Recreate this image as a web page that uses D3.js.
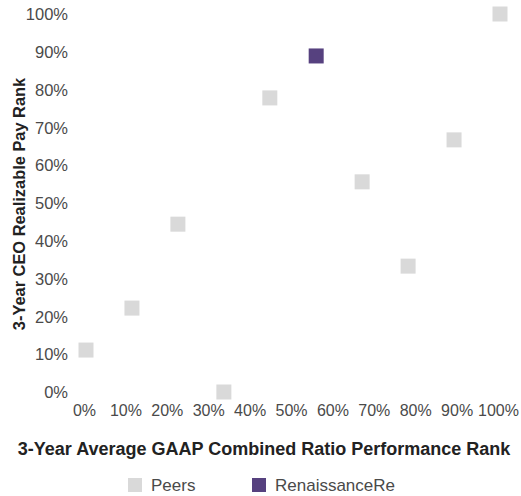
<!DOCTYPE html>
<html>
<head>
<meta charset="utf-8">
<script src="https://cdn.jsdelivr.net/npm/d3@7"></script>
<style>
  body { margin: 0; background: #fff; }
  text { font-family: "Liberation Sans", Arial, sans-serif; }
</style>
</head>
<body>
<div id="chart"></div>
<script>
// Performance rank (x) vs realizable pay rank (y), in percent
const peerNames = ["P1", "P2", "P3", "P4", "P5", "P6", "P7", "P8", "P9"];
const peerPerf = [0, 11.1, 22.2, 33.3, 44.4, 66.7, 77.8, 88.9, 100];
const peerPay = [11.1, 22.2, 44.4, 0, 77.8, 55.6, 33.3, 66.7, 100];
const companyPerf = [55.6];
const companyPay = [88.9];
const tickValues = [0, 10, 20, 30, 40, 50, 60, 70, 80, 90, 100];
const legendLabels = ["Peers", "RenaissanceRe"];

const width = 521, height = 496;
const peerColor = "#d9d9d9", companyColor = "#56417f";
const size = 15;

const svg = d3.select("#chart").append("svg")
    .attr("width", width)
    .attr("height", height);

const xScale = d3.scaleLinear().domain([0, 100]).range([86, 500]);
const yScale = d3.scaleLinear().domain([0, 100]).range([392, 14]);

// Axes (labels only, no lines)
const xAxis = d3.axisBottom(xScale).tickValues(tickValues)
    .tickFormat(d => d + "%").tickSize(0).tickPadding(0);
const yAxis = d3.axisLeft(yScale).tickValues(tickValues)
    .tickFormat(d => d + "%").tickSize(0).tickPadding(0);

const xAxisGroup = svg.append("g")
    .attr("transform", "translate(-2, 405)")
    .call(xAxis);
const yAxisGroup = svg.append("g")
    .attr("transform", "translate(68, 0)")
    .call(yAxis);

[xAxisGroup, yAxisGroup].forEach(g => {
    g.select(".domain").remove();
    g.selectAll("text")
        .attr("fill", "#4a4a4a")
        .style("font-family", "'Liberation Sans', Arial, sans-serif");
});
xAxisGroup.selectAll("text").style("font-size", "16px");
yAxisGroup.selectAll("text").style("font-size", "16.5px").attr("dy", "0.35em");

// Axis titles
svg.append("text")
    .attr("x", 264)
    .attr("y", 455)
    .attr("text-anchor", "middle")
    .attr("font-weight", "bold")
    .attr("font-size", "18px")
    .attr("fill", "#222")
    .text("3-Year Average GAAP Combined Ratio Performance Rank");

svg.append("text")
    .attr("transform", "translate(25, 204) rotate(-90)")
    .attr("text-anchor", "middle")
    .attr("font-weight", "bold")
    .attr("font-size", "16.4px")
    .attr("fill", "#222")
    .text("3-Year CEO Realizable Pay Rank");

// Points
const peers = peerNames.map((n, i) => ({ x: peerPerf[i], y: peerPay[i] }));
const company = companyPerf.map((v, i) => ({ x: v, y: companyPay[i] }));

svg.append("g").selectAll("rect")
    .data(peers)
    .join("rect")
    .attr("x", d => xScale(d.x) - size / 2)
    .attr("y", d => yScale(d.y) - size / 2)
    .attr("width", size)
    .attr("height", size)
    .attr("fill", peerColor);

svg.append("g").selectAll("rect")
    .data(company)
    .join("rect")
    .attr("x", d => xScale(d.x) - size / 2)
    .attr("y", d => yScale(d.y) - size / 2)
    .attr("width", size)
    .attr("height", size)
    .attr("fill", companyColor);

// Legend
const legendX = [128, 252];
const legendColors = [peerColor, companyColor];
const legend = svg.append("g").selectAll("g")
    .data(legendLabels)
    .join("g")
    .attr("transform", (d, i) => `translate(${legendX[i]}, 478)`);

legend.append("rect")
    .attr("width", 14)
    .attr("height", 14)
    .attr("fill", (d, i) => legendColors[i]);

legend.append("text")
    .attr("x", 23)
    .attr("y", 13)
    .attr("font-size", "17px")
    .attr("fill", "#4a4a4a")
    .text(d => d);
</script>
</body>
</html>
